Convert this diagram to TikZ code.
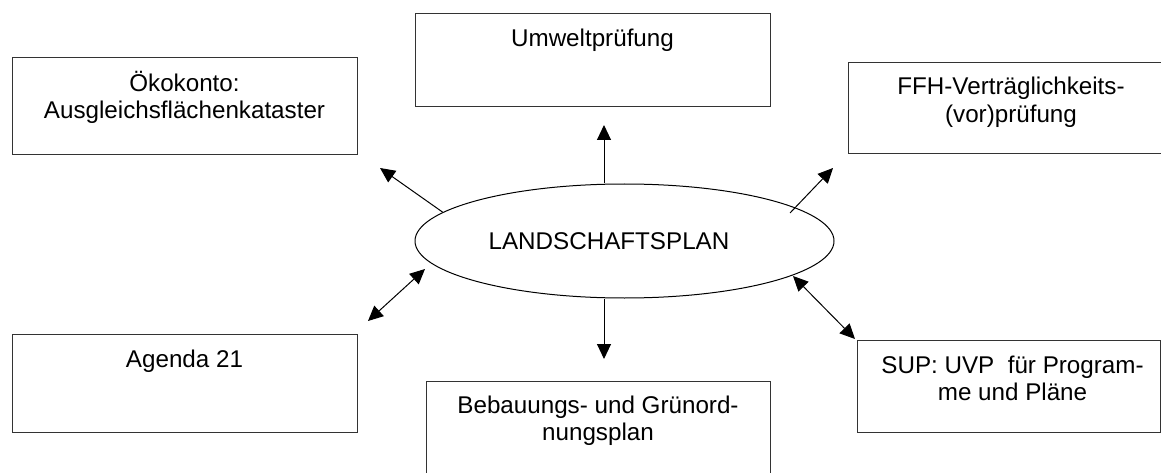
\documentclass[tikz,border=0pt]{standalone}
\usepackage{fontspec}
\setmainfont{Liberation Sans}
\usetikzlibrary{shapes.geometric,arrows.meta}
\begin{document}
\begin{tikzpicture}[x=1pt,y=-1pt,
  box/.style={draw=black!80,line width=1pt,rectangle,inner sep=0pt},
  lbl/.style={anchor=base,inner sep=0pt,align=center,font=\fontsize{24.2}{27.5}\selectfont},
  arr/.style={line width=1pt,-{Triangle[length=15pt,width=14pt]}},
  darr/.style={line width=1pt,{Triangle[length=15pt,width=14pt]}-{Triangle[length=15pt,width=14pt]}}]
\clip (0,0) rectangle (1161,473);
\fill[white] (0,0) rectangle (1161,473);
% boxes
\node[box,minimum width=345pt,minimum height=97pt] (oko) at (184.5,106.5) {};
\node[box,minimum width=355pt,minimum height=93pt] (umw) at (592.5,60.5) {};
\node[box,minimum width=326pt,minimum height=91pt] (ffh) at (1011,108.5) {};
\node[box,minimum width=345pt,minimum height=98pt] (age) at (184.5,383) {};
\node[box,minimum width=344pt,minimum height=95pt] (beb) at (598,428.5) {};
\node[box,minimum width=303pt,minimum height=92pt] (sup) at (1008.5,386) {};
% texts
\node[lbl] (tOko) at (184.5,119) {Ökokonto:\\Ausgleichsflächenkataster};
\node[lbl] (tUmw) at (592.5,47) {Umweltprüfung};
\node[lbl] (tFfh) at (1011,122.5) {FFH-Verträglichkeits-\\(vor)prüfung};
\node[lbl] (tAge) at (184.5,367) {Agenda 21};
\node[lbl] (tBeb) at (598,440.5) {Bebauungs- und Grünord-\\nungsplan};
\node[lbl] (tSup) at (1012.5,400.5) {SUP: UVP\ \ für Program-\\me und Pläne};
% ellipse
\node[draw,ellipse,line width=1pt,minimum width=419pt,minimum height=114pt,inner sep=0pt] (lp) at (624.5,241) {};
\node[lbl] (tLp) at (609,249) {LANDSCHAFTSPLAN};
% connector end points
\coordinate (a1) at (380,168);
\coordinate (a2) at (604,125);
\coordinate (s3) at (790,213);
\coordinate (a3) at (833,168);
\coordinate (a4) at (368,321);
\coordinate (b4) at (425,269);
\coordinate (a5) at (604,359);
\coordinate (a6) at (855,339);
\coordinate (b6) at (793,276);
% connectors
\draw[arr] (lp.171) -- (a1);
\draw[arr] (lp.north -| a2) -- (a2);
\draw[arr] (s3) -- (a3);
\draw[darr] (b4) -- (a4);
\draw[arr] (lp.south -| a5) -- (a5);
\draw[darr] (b6) -- (a6);
\end{tikzpicture}
\end{document}
